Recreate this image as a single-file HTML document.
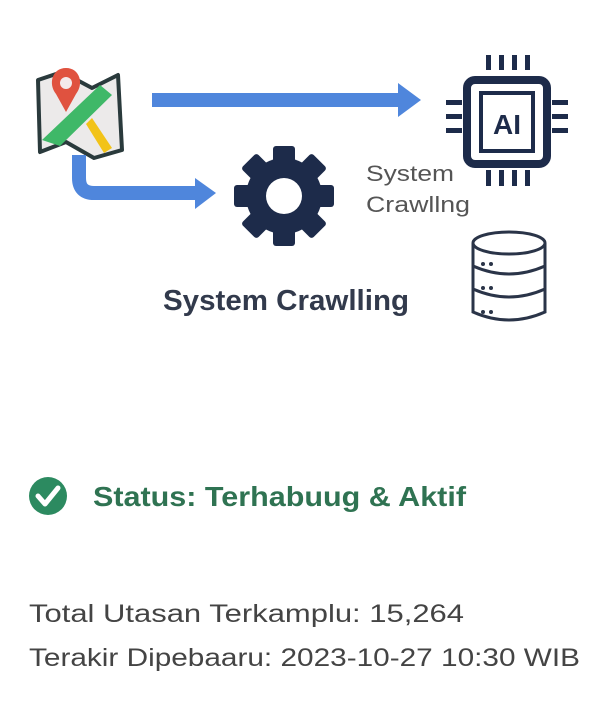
<!DOCTYPE html>
<html><head><meta charset="utf-8"><style>
html,body{margin:0;padding:0;background:#fff;}
svg{display:block;}
text{font-family:"Liberation Sans",sans-serif;}
</style></head><body>
<svg width="603" height="726" viewBox="0 0 603 726" xmlns="http://www.w3.org/2000/svg">
<g stroke-linejoin="round">
<path d="M38 80 L62 72 L92 88 L118 75 L122 150 L94 158 L66 142 L40 152 Z" fill="#eceaea" stroke="#2a3a3c" stroke-width="4"/>
<path d="M42 140 L100 85 L112 95 L60 146 Z" fill="#3fb868"/>
<path d="M92 118 L112 148 L104 153 L86 124 Z" fill="#f2c318"/>
<path d="M66 68 C52 68 48 84 56 94 L66 112 L76 94 C84 84 80 68 66 68 Z" fill="#e0523f"/>
<circle cx="66" cy="83" r="6" fill="#f4eaea"/>
</g>
<rect x="152" y="93" width="250" height="14" fill="#4f86dc"/>
<polygon points="398,83 421,100 398,117" fill="#4f86dc"/>
<path d="M79 155 L79 178 Q79 193 94 193 L200 193" fill="none" stroke="#4f86dc" stroke-width="14"/>
<polygon points="195,178 216,193 195,209" fill="#4f86dc"/>
<g fill="#1d2b4a">
<rect x="486" y="55" width="5" height="15"/><rect x="499" y="55" width="5" height="15"/><rect x="512" y="55" width="5" height="15"/><rect x="525" y="55" width="5" height="15"/>
<rect x="486" y="170" width="5" height="16"/><rect x="499" y="170" width="5" height="16"/><rect x="512" y="170" width="5" height="16"/><rect x="525" y="170" width="5" height="16"/>
<rect x="446" y="100" width="16" height="5"/><rect x="446" y="114" width="16" height="5"/><rect x="446" y="128" width="16" height="5"/>
<rect x="552" y="100" width="16" height="5"/><rect x="552" y="114" width="16" height="5"/><rect x="552" y="128" width="16" height="5"/>
</g>
<rect x="467" y="80" width="80" height="84" rx="8" fill="none" stroke="#1d2b4a" stroke-width="8"/>
<rect x="481" y="93" width="52" height="58" fill="none" stroke="#1d2b4a" stroke-width="4"/>
<text x="507" y="134" font-size="28" font-weight="bold" fill="#1d2b4a" text-anchor="middle">AI</text>
<g fill="#1d2b4a" transform="translate(284,196)">
<circle r="38"/>
<rect x="-11" y="-50" width="22" height="100" rx="3"/>
<rect x="-11" y="-50" width="22" height="100" rx="3" transform="rotate(45)"/>
<rect x="-11" y="-50" width="22" height="100" rx="3" transform="rotate(90)"/>
<rect x="-11" y="-50" width="22" height="100" rx="3" transform="rotate(135)"/>
<circle r="18" fill="#fff"/>
</g>
<text x="366" y="181" font-size="22" fill="#555" textLength="88" lengthAdjust="spacingAndGlyphs">System</text>
<text x="366" y="212" font-size="22" fill="#555" textLength="104" lengthAdjust="spacingAndGlyphs">Crawllng</text>
<g fill="none" stroke="#2a3448" stroke-width="3">
<path d="M473 243 L473 312 Q509 328 545 312 L545 243"/>
<ellipse cx="509" cy="243" rx="36" ry="11"/>
<path d="M473 266 Q509 282 545 266"/>
<path d="M473 289 Q509 305 545 289"/>
</g>
<g fill="#2a3448"><circle cx="483" cy="264" r="2"/><circle cx="491" cy="264" r="2"/><circle cx="483" cy="288" r="2"/><circle cx="491" cy="288" r="2"/><circle cx="483" cy="312" r="2"/><circle cx="491" cy="312" r="2"/></g>
<text x="163" y="310" font-size="29" font-weight="bold" fill="#323a4c" textLength="246" lengthAdjust="spacingAndGlyphs">System Crawlling</text>
<circle cx="48" cy="496" r="19" fill="#2c8a60"/>
<path d="M38 496 L45 504 L58 488" fill="none" stroke="#fff" stroke-width="5" stroke-linecap="round" stroke-linejoin="round"/>
<text x="93" y="506" font-size="28" font-weight="bold" fill="#2f7352" textLength="373" lengthAdjust="spacingAndGlyphs">Status: Terhabuug &amp; Aktif</text>
<text x="29" y="622" font-size="25" fill="#444" textLength="435" lengthAdjust="spacingAndGlyphs">Total Utasan Terkamplu: 15,264</text>
<text x="29" y="666" font-size="25" fill="#444" textLength="551" lengthAdjust="spacingAndGlyphs">Terakir Dipebaaru: 2023-10-27 10:30 WIB</text>
</svg>
</body></html>
